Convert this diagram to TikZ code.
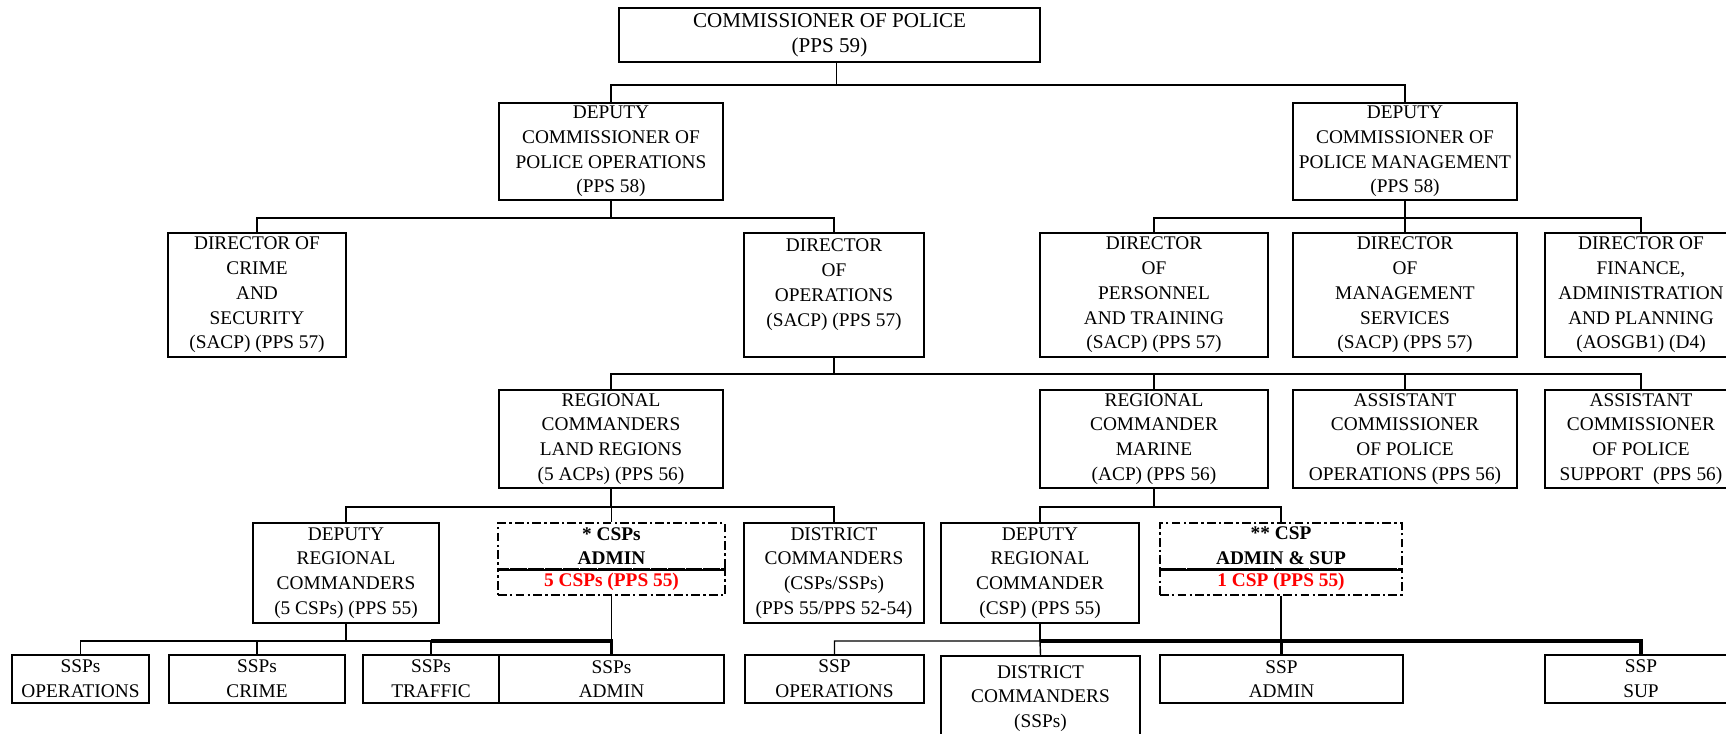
\documentclass[tikz,border=0pt]{standalone}
\usepackage{fontspec}
\setmainfont{Liberation Serif}

\tikzset{
	box/.style = {draw, line width = 1.1pt, align = center, inner sep = 1pt, font = \fontsize{11}{14.1}\selectfont},
	dashbox/.style = {box, dash pattern = on 5pt off 1.8pt on 1.4pt off 1.8pt, font = \bfseries\fontsize{11}{14.1}\selectfont},
	link/.style = {line width = 0.8pt},
	heavy/.style = {line width = 2.2pt},
}

\begin{document}
\begin{tikzpicture}[link]

	\useasboundingbox (0, 0) rectangle (34.52, -14.66);

	% Commissioner and deputies

	\node (cop) [box, minimum width = 8.42cm, minimum height = 1.08cm, font = \fontsize{12}{14.1}\selectfont] at (16.59, -0.70) {COMMISSIONER OF POLICE\\(PPS 59)};
	\node (dops) [box, minimum width = 4.48cm, minimum height = 1.94cm] at (12.22, -3.03) {DEPUTY\\COMMISSIONER OF\\POLICE OPERATIONS\\(PPS 58)};
	\node (dmgmt) [box, minimum width = 4.48cm, minimum height = 1.94cm] at (28.10, -3.03) {DEPUTY\\COMMISSIONER OF\\POLICE MANAGEMENT\\(PPS 58)};

	% Directors

	\node (crime) [box, minimum width = 3.56cm, minimum height = 2.48cm] at (5.14, -5.90) {DIRECTOR OF\\CRIME\\AND\\SECURITY\\(SACP) (PPS 57)};
	\node (dirops) [box, minimum width = 3.60cm, minimum height = 2.48cm] at (16.68, -5.90) {DIRECTOR\\OF\\OPERATIONS\\(SACP) (PPS 57)\\~};
	\node (pers) [box, minimum width = 4.56cm, minimum height = 2.48cm] at (23.08, -5.90) {DIRECTOR\\OF\\PERSONNEL\\AND TRAINING\\(SACP) (PPS 57)};
	\node (mserv) [box, minimum width = 4.48cm, minimum height = 2.48cm] at (28.10, -5.90) {DIRECTOR\\OF\\MANAGEMENT\\SERVICES\\(SACP) (PPS 57)};
	\node (fin) [box, minimum width = 3.84cm, minimum height = 2.48cm] at (32.82, -5.90) {DIRECTOR OF\\FINANCE,\\ADMINISTRATION\\AND PLANNING\\(AOSGB1) (D4)};

	% Regional commanders and assistant commissioners

	\node (land) [box, minimum width = 4.48cm, minimum height = 1.96cm] at (12.22, -8.78) {REGIONAL\\COMMANDERS\\LAND REGIONS\\(5 ACPs) (PPS 56)};
	\node (marine) [box, minimum width = 4.56cm, minimum height = 1.96cm] at (23.08, -8.78) {REGIONAL\\COMMANDER\\MARINE\\(ACP) (PPS 56)};
	\node (acpops) [box, minimum width = 4.48cm, minimum height = 1.96cm] at (28.10, -8.78) {ASSISTANT\\COMMISSIONER\\OF POLICE\\OPERATIONS (PPS 56)};
	\node (acpsup) [box, minimum width = 3.84cm, minimum height = 1.96cm] at (32.82, -8.78) {ASSISTANT\\COMMISSIONER\\OF POLICE\\SUPPORT~ (PPS 56)};

	% Deputies, admin CSPs and district commanders

	\node (deprc) [box, minimum width = 3.72cm, minimum height = 2.00cm] at (6.92, -11.46) {DEPUTY\\REGIONAL\\COMMANDERS\\(5 CSPs) (PPS 55)};
	\node (cspsadm) [dashbox, minimum width = 4.54cm, minimum height = 0.92cm] at (12.23, -10.92) {* CSPs\\ADMIN};
	\node (cspsnum) [dashbox, text = red, minimum width = 4.54cm, minimum height = 0.52cm] at (12.23, -11.64) {5 CSPs (PPS 55)};
	\node (distcmd) [box, minimum width = 3.60cm, minimum height = 2.00cm] at (16.68, -11.46) {DISTRICT\\COMMANDERS\\(CSPs/SSPs)\\(PPS 55/PPS 52-54)};
	\node (deprcm) [box, minimum width = 3.96cm, minimum height = 2.00cm] at (20.80, -11.46) {DEPUTY\\REGIONAL\\COMMANDER\\(CSP) (PPS 55)};
	\node (cspadmsup) [dashbox, minimum width = 4.84cm, minimum height = 0.92cm] at (25.62, -10.92) {** CSP\\ADMIN \& SUP};
	\node (cspnum) [dashbox, text = red, minimum width = 4.84cm, minimum height = 0.52cm] at (25.62, -11.64) {1 CSP (PPS 55)};

	\draw [line width = 1.1pt] (cspsadm.south west) -- (cspsadm.south east);
	\draw [line width = 1.1pt] (cspadmsup.south west) -- (cspadmsup.south east);

	% Senior superintendents

	\node (sspsops) [box, minimum width = 2.74cm, minimum height = 0.96cm] at (1.61, -13.58) {SSPs\\OPERATIONS};
	\node (sspscrime) [box, minimum width = 3.52cm, minimum height = 0.96cm] at (5.14, -13.58) {SSPs\\CRIME};
	\node (sspstraffic) [box, minimum width = 2.72cm, minimum height = 0.96cm] at (8.62, -13.58) {SSPs\\TRAFFIC};
	\node (sspsadmin) [box, minimum width = 4.50cm, minimum height = 0.96cm] at (12.23, -13.58) {SSPs\\ADMIN};
	\node (sspops) [box, minimum width = 3.58cm, minimum height = 0.96cm] at (16.69, -13.58) {SSP\\OPERATIONS};
	\node (distssps) [box, anchor = north, minimum width = 3.98cm, minimum height = 2.12cm] at (20.81, -13.10) {DISTRICT\\COMMANDERS\\(SSPs)\\~};
	\node (sspadmin) [box, minimum width = 4.86cm, minimum height = 0.96cm] at (25.63, -13.58) {SSP\\ADMIN};
	\node (sspsup) [box, minimum width = 3.84cm, minimum height = 0.96cm] at (32.82, -13.58) {SSP\\SUP};

	% Top levels

	\draw ([xshift = 0.14cm] cop.south) -- ++(0, -0.44) coordinate (b1);
	\draw (dops.north) |- (b1) -| (dmgmt.north);

	\draw (dops.south) -- ++(0, -0.34) coordinate (b2);
	\draw (crime.north) |- (b2) -| (dirops.north);

	\draw (dmgmt.south) -- ++(0, -0.34) coordinate (b3);
	\draw (pers.north) |- (b3) -| (fin.north);
	\draw (mserv.north) -- (mserv.north |- b3);

	\draw (dirops.south) -- ++(0, -0.32) coordinate (b4);
	\draw (land.north) |- (b4) -| (acpsup.north);
	\draw (marine.north) -- (marine.north |- b4);
	\draw (acpops.north) -- (acpops.north |- b4);

	% Regions

	\draw (land.south) -- ++(0, -0.36) coordinate (b5);
	\draw (deprc.north) |- (b5) -| (distcmd.north);
	\draw (cspsadm.north) -- (cspsadm.north |- b5);

	\draw (marine.south) -- ++(0, -0.36) coordinate (b6);
	\draw (deprcm.north) |- (b6) -| (cspadmsup.north);

	% Bottom row, land

	\draw (deprc.south) -- ++(0, -0.34) coordinate (b7);
	\draw (sspsops.north) |- (b7) -| (sspsadmin.north);
	\draw (sspscrime.north) -- (sspscrime.north |- b7);
	\draw (sspstraffic.north) -- (sspstraffic.north |- b7);
	\draw (cspsnum.south) -- (cspsnum.south |- b7);
	\draw [heavy] (sspstraffic.north |- b7) -| (sspsadmin.north);

	% Bottom row, marine

	\draw (deprcm.south) -- ++(0, -0.34) coordinate (b8);
	\draw (sspops.north) |- (b8) -- (distssps.north);
	\draw (cspnum.south) -- (cspnum.south |- b8);
	\draw [heavy] (b8) -| (sspsup.north);
	\draw [heavy] (sspadmin.north |- b8) -- (sspadmin.north);

\end{tikzpicture}
\end{document}
